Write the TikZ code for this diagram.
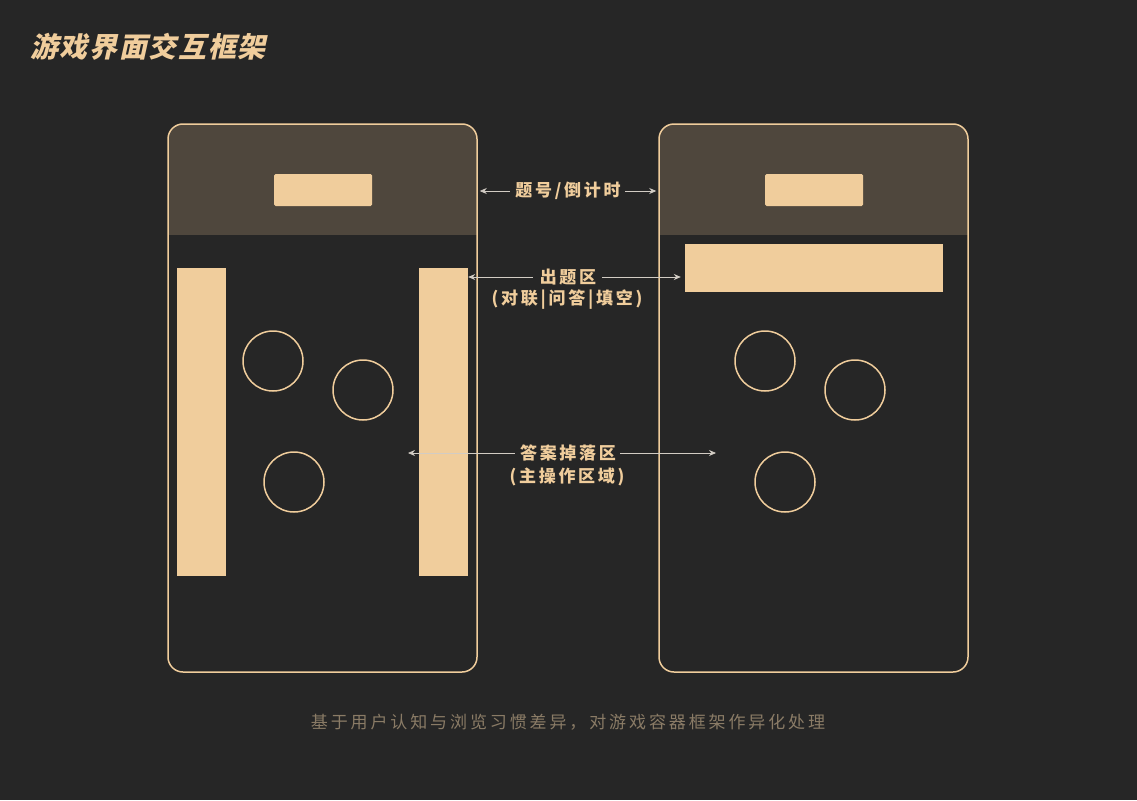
\documentclass[tikz,border=0pt]{standalone}
\usepackage{fontspec}
\usetikzlibrary{arrows.meta}
\newfontfamily\cjk{Noto Sans CJK SC}
\newfontfamily\cjktitle{Noto Sans CJK SC}[FakeSlant=0.22,LetterSpace=6]
\newfontfamily\cjklab{Noto Sans CJK SC}[LetterSpace=16]
\newfontfamily\cjknote{Noto Sans CJK SC}[LetterSpace=17]
\definecolor{bg}{HTML}{262626}
\definecolor{hdr}{HTML}{4F473D}
\definecolor{peach}{HTML}{F0CD9C}
\definecolor{note}{HTML}{8A7B66}
\definecolor{lin}{HTML}{D2CCC4}
\tikzset{
  phone/.style={draw=peach,line width=1.5pt,rounded corners=15pt,minimum width=309pt,minimum height=548pt,inner sep=0pt},
  blk/.style={fill=peach,rounded corners=1.5pt,inner sep=0pt},
  ring/.style={circle,draw=peach,line width=1.5pt,minimum size=60pt,inner sep=0pt},
  lab/.style={text=peach,font=\cjklab\bfseries\fontsize{17}{21}\selectfont,inner sep=0pt,align=center},
  arr/.style={draw=lin,line width=0.8pt,-{Stealth[length=7pt,width=6pt]}},
}
\begin{document}
\begin{tikzpicture}[x=1pt,y=-1pt]
\useasboundingbox (0,0) rectangle (1137,800);
\fill[bg] (0,0) rectangle (1137,800);
% title
\node[anchor=west,text=peach,inner sep=0pt,font=\cjktitle\bfseries\fontsize{28}{32}\selectfont] (title) at (30,47) {游戏界面交互框架};
% headers
\begin{scope}
\clip[rounded corners=15pt] (168,124) rectangle (477,672);
\fill[hdr] (168,124) rectangle (477,235);
\end{scope}
\begin{scope}
\clip[rounded corners=15pt] (659,124) rectangle (968,672);
\fill[hdr] (659,124) rectangle (968,235);
\end{scope}
% phones
\node[phone] (pL) at (322.5,398) {};
\node[phone] (pR) at (813.5,398) {};
% left phone content
\node[blk,minimum width=98pt,minimum height=32pt] (hL) at (323,190) {};
\node[blk,minimum width=49pt,minimum height=308pt,rounded corners=0pt] (barL) at (201.5,422) {};
\node[blk,minimum width=49pt,minimum height=308pt,rounded corners=0pt] (barR) at (443.5,422) {};
\node[ring] (c1) at (273,361) {};
\node[ring] (c2) at (363,390) {};
\node[ring] (c3) at (294,482) {};
% right phone content
\node[blk,minimum width=98pt,minimum height=32pt] (hR) at (814,190) {};
\node[blk,minimum width=258pt,minimum height=48pt,rounded corners=0pt] (wide) at (814,268) {};
\node[ring] (d1) at (765,361) {};
\node[ring] (d2) at (855,390) {};
\node[ring] (d3) at (785,482) {};
% labels
\node[lab] (t1) at (568,191) {题号/倒计时};
\node[lab] (t2) at (568,277) {出题区};
\node[lab] (t2b) at (567,300) {(对联|问答|填空)};
\node[lab] (t3) at (568,453) {答案掉落区};
\node[lab] (t3b) at (567,477) {(主操作区域)};
\coordinate (a3L) at (408,453);
\coordinate (a3R) at (716,453);
% connectors
\draw[arr] ([xshift=-5pt]t1.west) -- ([xshift=2pt]pL.east |- t1);
\draw[arr] ([xshift=4pt]t1.east) -- ([xshift=-2pt]pR.west |- t1);
\draw[arr] ([xshift=-7pt]t2.west) -- (barR.east |- t2);
\draw[arr] ([xshift=6pt]t2.east) -- ([xshift=-4pt]wide.west |- t2);
\draw[arr] ([xshift=-5pt]t3.west) -- (a3L);
\draw[arr] ([xshift=4pt]t3.east) -- (a3R);
% note
\node[text=note,inner sep=0pt,font=\cjknote\fontsize{17}{20}\selectfont] (note) at (568,722) {基于用户认知与浏览习惯差异，对游戏容器框架作异化处理};
\end{tikzpicture}
\end{document}
